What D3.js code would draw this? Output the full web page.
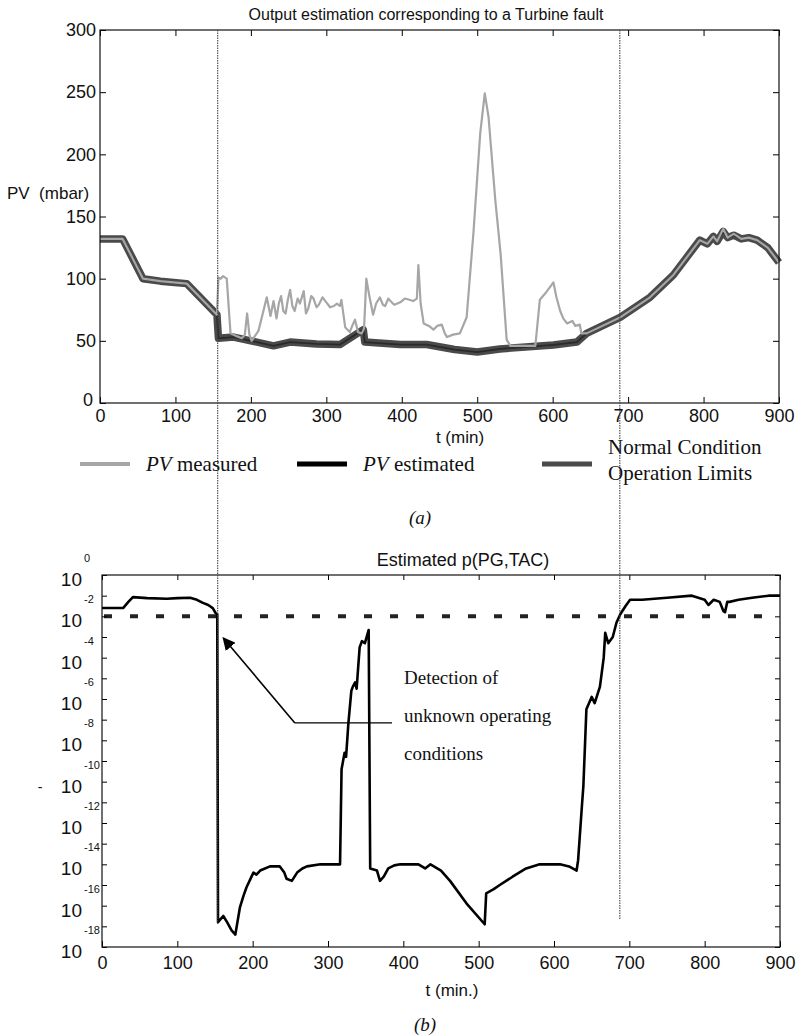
<!DOCTYPE html>
<html>
<head>
<meta charset="utf-8">
<script src="https://cdn.jsdelivr.net/npm/d3@7"></script>
<style>
body { margin: 0; background: #fff; }
text { font-family: "Liberation Sans", Arial, sans-serif; fill: #111; }
.serif { font-family: "Liberation Serif", "Times New Roman", serif; }
</style>
</head>
<body>
<svg id="chart" width="800" height="1036"></svg>
<script>
// ---- data: (a) PV output, mbar ----
var estT = [0, 30, 57, 80, 115, 155, 157, 177, 200, 230, 252, 287, 318, 349, 351, 398, 433, 470, 500, 530, 601, 632, 645, 690, 729, 760, 795, 805, 813, 818, 826, 832, 840, 850, 860, 871, 885, 900];
var estV = [132, 132, 100, 98, 96, 71, 52, 53, 50, 46, 49, 47.5, 47, 59, 49, 47, 47, 43, 41, 43.5, 46.7, 49, 56, 69, 85, 103, 131, 128, 134, 130, 138, 133, 135, 132, 133, 131, 125, 113];

var measT = [0, 30, 57, 80, 115, 155, 157, 160, 163, 168, 173, 180, 188, 192, 195, 198, 201, 210, 217, 221, 224, 226, 230, 234, 237, 240, 243, 246, 249, 252, 255, 258, 262, 265, 270, 273, 276, 280, 283, 287, 290, 295, 300, 305, 310, 314, 318, 320, 325, 331, 335, 338, 342, 347, 350, 353, 357, 362, 366, 371, 375, 378, 382, 385, 390, 398, 404, 410, 415, 420, 422, 425, 429, 436, 442, 447, 453, 457, 460, 468, 477, 486, 495, 504, 510, 515, 524, 531, 539, 544, 560, 577, 583, 590, 601, 605, 610, 614, 619, 626, 630, 636, 638, 645, 690, 729, 760, 795, 805, 813, 818, 826, 832, 840, 850, 860, 871, 885, 900];
var measV = [132, 132, 100, 98, 96, 71, 101, 100, 102, 100, 56, 54, 52, 55, 72, 55, 50, 58, 75, 85, 76, 70, 82, 68, 80, 86, 74, 72, 83, 91, 78, 74, 84, 80, 90, 72, 76, 86, 84, 77, 79, 85, 81, 77, 78, 80, 78, 83, 61, 57, 63, 67, 57, 56, 60, 100, 86, 71, 80, 85, 79, 78, 84, 82, 79, 81, 84, 83, 82, 84, 111, 80, 64, 62, 59, 62, 63, 56, 53, 55, 56, 69, 137, 217, 249, 230, 163, 120, 51, 46, 46, 46, 83, 88, 97, 85, 74, 68, 64, 66, 62, 63, 56, 56, 69, 85, 103, 131, 128, 134, 130, 140, 133, 136, 132, 133, 131, 125, 113];

// ---- data: (b) estimated probability, log10 p ----
var probT = [0, 28, 35, 41, 60, 86, 100, 117, 126, 134, 141, 147, 151, 153, 154, 161, 166, 172, 177, 183, 188, 192, 201, 205, 210, 223, 236, 242, 245, 252, 259, 266, 272, 290, 316, 318, 320, 322, 324, 327, 331, 333, 336, 338, 342, 345, 349, 354, 356, 365, 369, 374, 380, 388, 396, 420, 429, 436, 450, 462, 484, 508, 510, 520, 528, 545, 563, 581, 608, 620, 630, 632, 637, 639, 643, 650, 654, 661, 666, 668, 672, 678, 683, 688, 695, 701, 717, 750, 783, 800, 805, 812, 820, 825, 827, 830, 833, 845, 863, 885, 900];
var probLog = [-1.6, -1.6, -1.3, -1.07, -1.12, -1.15, -1.12, -1.1, -1.2, -1.35, -1.45, -1.6, -1.85, -1.9, -16.8, -16.5, -16.8, -17.2, -17.4, -16.1, -15.5, -15.1, -14.4, -14.5, -14.3, -14.1, -14.1, -14.4, -14.7, -14.8, -14.4, -14.2, -14.1, -14.0, -14.0, -9.4, -9.0, -8.6, -8.8, -7.2, -5.6, -5.4, -5.2, -5.5, -3.5, -3.2, -3.3, -2.66, -14.2, -14.3, -14.8, -14.6, -14.2, -14.05, -14.0, -14.0, -14.2, -14.0, -14.3, -14.8, -15.9, -16.9, -15.4, -15.2, -15.0, -14.6, -14.2, -14.0, -14.0, -14.1, -14.3, -13.8, -11.2, -10.2, -6.5, -5.9, -6.2, -5.4, -4.0, -2.8, -3.3, -3.0, -2.3, -1.9, -1.5, -1.2, -1.2, -1.1, -1.0, -1.2, -1.45, -1.2, -1.3, -1.75, -1.8, -1.3, -1.3, -1.2, -1.1, -1.0, -1.0];
var thresholdLog = -2;

var xTicks = [0, 100, 200, 300, 400, 500, 600, 700, 800, 900];
var pvTicks = [0, 50, 100, 150, 200, 250, 300];
var decadeTicks = [0, -1, -2, -3, -4, -5, -6, -7, -8, -9, -10, -11, -12, -13, -14, -15, -16, -17, -18];
var decadeLabels = [0, -2, -4, -6, -8, -10, -12, -14, -16, -18];
var faultTimes = [156, 689];
var arrowFrom = [256, -7.16], arrowTo = [161, -3.05], noteEnd = [385, -7.16];
var noteLines = ["Detection of", "unknown operating", "conditions"];

var svg = d3.select("#chart");

// ================= (a) =================
var xA = d3.scaleLinear().domain([0, 900]).range([100, 779]);
var yA = d3.scaleLinear().domain([0, 300]).range([403, 30]);

svg.append("text")
    .attr("x", 426).attr("y", 20)
    .attr("text-anchor", "middle")
    .style("font-size", "16px")
    .text("Output estimation corresponding to a Turbine fault");

svg.append("text")
    .attr("x", 7).attr("y", 199)
    .style("font-size", "17px")
    .attr("xml:space", "preserve")
    .text("PV  (mbar)");

var lineEst = d3.line().x(d => xA(d[0])).y(d => yA(d[1]));
var estData = d3.zip(estT, estV);
var measData = d3.zip(measT, measV);

// operation limits band around the estimate
svg.append("path").datum(estData)
    .attr("d", lineEst)
    .attr("fill", "none").attr("stroke", "#4a4a4a")
    .attr("stroke-width", 7.5).attr("stroke-linejoin", "round");
svg.append("path").datum(estData)
    .attr("d", lineEst)
    .attr("fill", "none").attr("stroke", "#2a2a2a")
    .attr("stroke-width", 1.8);
svg.append("path").datum(measData)
    .attr("d", lineEst)
    .attr("fill", "none").attr("stroke", "#a6a6a6")
    .attr("stroke-width", 2.2).attr("stroke-linejoin", "round");

svg.append("g")
    .attr("transform", "translate(0,403)")
    .call(d3.axisBottom(xA).tickValues(xTicks).tickSizeInner(-6).tickSizeOuter(0).tickPadding(6))
    .call(g => g.select(".domain").remove())
    .call(g => g.selectAll("text").style("font-size", "18px").attr("font-family", null));
svg.append("g")
    .attr("transform", "translate(0,30)")
    .call(d3.axisTop(xA).tickValues(xTicks).tickSizeInner(-6).tickSizeOuter(0).tickFormat(""))
    .call(g => g.select(".domain").remove());
svg.append("g")
    .attr("transform", "translate(100,0)")
    .call(d3.axisLeft(yA).tickValues(pvTicks).tickSizeInner(-6).tickSizeOuter(0).tickPadding(4))
    .call(g => g.select(".domain").remove())
    .call(g => g.selectAll("text").style("font-size", "18px").attr("font-family", null))
    .call(g => g.selectAll(".tick").filter(d => d === 0).select("text").attr("dy", "0.15em").attr("x", -7));
svg.append("g")
    .attr("transform", "translate(779,0)")
    .call(d3.axisRight(yA).tickValues(pvTicks).tickSizeInner(-6).tickSizeOuter(0).tickFormat(""))
    .call(g => g.select(".domain").remove());
svg.append("rect")
    .attr("x", 100).attr("y", 30).attr("width", 679).attr("height", 373)
    .attr("fill", "none").attr("stroke", "#111").attr("stroke-width", 1.2);

svg.append("text")
    .attr("x", 460).attr("y", 443)
    .attr("text-anchor", "middle")
    .style("font-size", "17px")
    .text("t (min)");

// legend
var legend = [
    {label: "measured", color: "#a6a6a6", w: 4, x: 80},
    {label: "estimated", color: "#000", w: 5, x: 297},
    {label: null, color: "#4a4a4a", w: 5, x: 542}
];
legend.forEach(function(l) {
    svg.append("line")
        .attr("x1", l.x).attr("x2", l.x + 50)
        .attr("y1", 464).attr("y2", 464)
        .attr("stroke", l.color).attr("stroke-width", l.w);
    if (l.label) {
        var t = svg.append("text").attr("class", "serif")
            .attr("x", l.x + 66).attr("y", 471)
            .style("font-size", "21px");
        t.append("tspan").style("font-style", "italic").text("PV");
        t.append("tspan").text(" " + l.label);
    }
});
svg.append("text").attr("class", "serif")
    .attr("x", 608).attr("y", 454).style("font-size", "21px")
    .text("Normal Condition");
svg.append("text").attr("class", "serif")
    .attr("x", 608).attr("y", 480).style("font-size", "21px")
    .text("Operation Limits");

svg.append("text").attr("class", "serif")
    .attr("x", 420).attr("y", 524)
    .attr("text-anchor", "middle")
    .style("font-size", "19px").style("font-style", "italic")
    .text("(a)");

// ================= (b) =================
var xB = d3.scaleLinear().domain([0, 900]).range([102, 780]);
var yB = d3.scaleLog().domain([1e-18, 1]).range([947, 575]);
var pw = e => Math.pow(10, e);

svg.append("text")
    .attr("x", 463).attr("y", 566)
    .attr("text-anchor", "middle")
    .style("font-size", "18px")
    .text("Estimated p(PG,TAC)");

svg.append("line")
    .attr("x1", xB(0)).attr("x2", xB(900))
    .attr("y1", yB(pw(thresholdLog))).attr("y2", yB(pw(thresholdLog)))
    .attr("stroke", "#222").attr("stroke-width", 4)
    .attr("stroke-dasharray", "8,18").attr("stroke-dashoffset", -2);

var lineB = d3.line().x(d => xB(d[0])).y(d => yB(pw(d[1])));
svg.append("path").datum(d3.zip(probT, probLog))
    .attr("d", lineB)
    .attr("fill", "none").attr("stroke", "#000")
    .attr("stroke-width", 2.6).attr("stroke-linejoin", "round");

svg.append("g")
    .attr("transform", "translate(0,947)")
    .call(d3.axisBottom(xB).tickValues(xTicks).tickSizeInner(-6).tickSizeOuter(0).tickPadding(9))
    .call(g => g.select(".domain").remove())
    .call(g => g.selectAll("text").style("font-size", "18px").attr("font-family", null));
svg.append("g")
    .attr("transform", "translate(0,575)")
    .call(d3.axisTop(xB).tickValues(xTicks).tickSizeInner(-5).tickSizeOuter(0).tickFormat(""))
    .call(g => g.select(".domain").remove());
svg.append("g")
    .attr("transform", "translate(102,0)")
    .call(d3.axisLeft(yB).tickValues(decadeTicks.map(pw)).tickSizeInner(-5).tickSizeOuter(0).tickFormat(""))
    .call(g => g.select(".domain").remove());
svg.append("g")
    .attr("transform", "translate(780,0)")
    .call(d3.axisRight(yB).tickValues(decadeTicks.map(pw)).tickSizeInner(-5).tickSizeOuter(0).tickFormat(""))
    .call(g => g.select(".domain").remove());
svg.append("rect")
    .attr("x", 102).attr("y", 575).attr("width", 678).attr("height", 372)
    .attr("fill", "none").attr("stroke", "#111").attr("stroke-width", 1.2);

var yLab = svg.append("g").selectAll("g").data(decadeLabels).enter().append("g")
    .attr("transform", d => "translate(0," + yB(pw(d)) + ")");
yLab.append("text")
    .attr("x", 82).attr("y", 11)
    .attr("text-anchor", "end")
    .style("font-size", "19px")
    .text("10");
yLab.append("text")
    .attr("x", 84).attr("y", -13)
    .style("font-size", "11px")
    .text(d => d);

svg.append("text")
    .attr("x", 40).attr("y", 792)
    .attr("text-anchor", "middle")
    .style("font-size", "14px")
    .text("-");

svg.append("text")
    .attr("x", 452).attr("y", 996)
    .attr("text-anchor", "middle")
    .style("font-size", "17px")
    .text("t (min.)");

svg.append("text").attr("class", "serif")
    .attr("x", 425).attr("y", 1031)
    .attr("text-anchor", "middle")
    .style("font-size", "19px").style("font-style", "italic")
    .text("(b)");

// annotation
svg.append("defs").append("marker")
    .attr("id", "arrow").attr("viewBox", "0 0 10 10")
    .attr("refX", 9).attr("refY", 5)
    .attr("markerWidth", 8).attr("markerHeight", 8)
    .attr("orient", "auto")
    .append("path").attr("d", "M0,0 L10,5 L0,10 Z").attr("fill", "#000");
svg.append("polyline")
    .attr("points", [noteEnd, arrowFrom].map(p => xB(p[0]) + "," + yB(pw(p[1]))).join(" "))
    .attr("fill", "none").attr("stroke", "#000").attr("stroke-width", 1.3);
svg.append("line")
    .attr("x1", xB(arrowFrom[0])).attr("y1", yB(pw(arrowFrom[1])))
    .attr("x2", xB(arrowTo[0])).attr("y2", yB(pw(arrowTo[1])))
    .attr("stroke", "#000").attr("stroke-width", 1.6)
    .attr("marker-end", "url(#arrow)");
svg.selectAll(".note").data(noteLines).enter().append("text")
    .attr("class", "serif note")
    .attr("x", 404).attr("y", (d, i) => 684 + i * 38)
    .style("font-size", "19px")
    .text(d => d);

// fault markers spanning both panels
faultTimes.forEach(function(t, i) {
    svg.append("line")
        .attr("x1", xA(t)).attr("x2", xA(t))
        .attr("y1", 30).attr("y2", i === 0 ? 925 : 920)
        .attr("stroke", "#444").attr("stroke-width", 1.1)
        .attr("stroke-dasharray", "1.5,1");
});
</script>
</body>
</html>
